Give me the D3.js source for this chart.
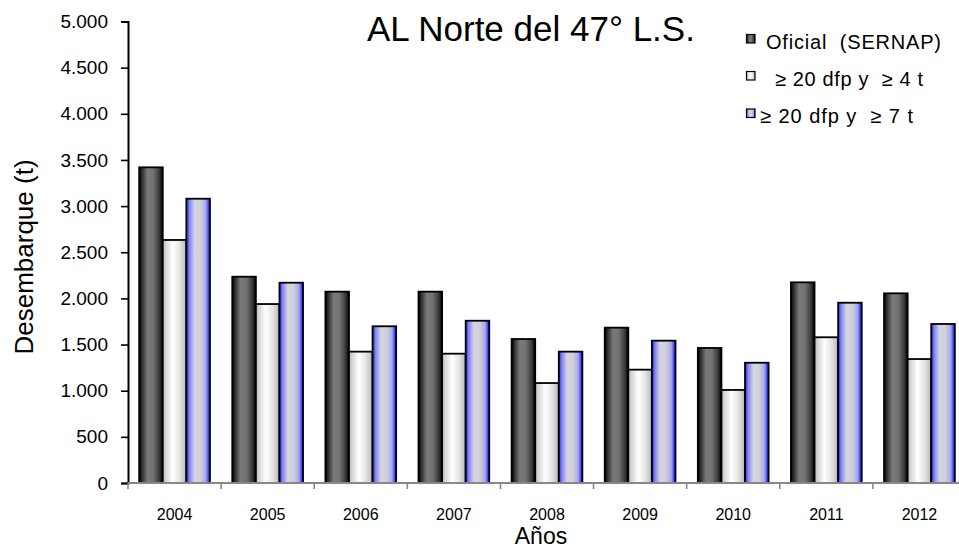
<!DOCTYPE html>
<html>
<head>
<meta charset="utf-8">
<script src="https://cdn.jsdelivr.net/npm/d3@7"></script>
<style>
  html, body { margin: 0; padding: 0; background: #fff; }
  svg { display: block; font-family: "Liberation Sans", Arial, sans-serif; }
  text { white-space: pre; }
</style>
</head>
<body>
<svg id="chart" width="959" height="550"></svg>
<script>
// ---- Data ----
const years = ["2004", "2005", "2006", "2007", "2008", "2009", "2010", "2011", "2012"];
const seriesNames = ["Oficial  (SERNAP)", "≥ 20 dfp y  ≥ 4 t", "≥ 20 dfp y  ≥ 7 t"];
const oficial = [3420, 2235, 2073, 2073, 1560, 1683, 1463, 2174, 2055];
const dfp4 = [2633, 1939, 1423, 1401, 1083, 1228, 1008, 1579, 1343];
const dfp7 = [3080, 2170, 1698, 1758, 1423, 1542, 1303, 1953, 1723];
const yTicks = [0, 500, 1000, 1500, 2000, 2500, 3000, 3500, 4000, 4500, 5000];
const titleText = "AL Norte del 47° L.S.";
const yTitle = "Desembarque (t)";
const xTitle = "Años";

const seriesValues = [oficial, dfp4, dfp7];

// ---- Layout ----
const svg = d3.select("#chart");
const pLeft = 128, pRight = 966, pTop = 21.5, pBottom = 483;

const x0 = d3.scaleBand().domain(years).range([pLeft, pRight]).paddingInner(0.24).paddingOuter(0.12);
const x1 = d3.scaleBand().domain(d3.range(seriesNames.length)).range([0, x0.bandwidth()]);
const y = d3.scaleLinear().domain([0, 5000]).range([pBottom, pTop]);

const loc = d3.formatLocale({ decimal: ",", thousands: ".", grouping: [3], currency: ["", ""] });
const fmt = loc.format(",");

// ---- Gradients ----
const defs = svg.append("defs");
const gradStops = [
  [[0, "#000000"], [0.12, "#2e2e2e"], [0.35, "#7a7a7a"], [0.6, "#727272"], [0.85, "#3a3a3a"], [1, "#000000"]],
  [[0, "#b8b8b8"], [0.15, "#d8d8d8"], [0.42, "#ffffff"], [0.7, "#e6e6e6"], [0.92, "#c4c4c4"], [1, "#9a9a9a"]],
  [[0, "#1a1aff"], [0.12, "#8080f0"], [0.35, "#d4d4e4"], [0.6, "#d0d0d8"], [0.82, "#a8a8ec"], [0.94, "#4040ff"], [1, "#0000ee"]]
];
gradStops.forEach((stops, i) => {
  const g = defs.append("linearGradient").attr("id", "g" + i)
    .attr("x1", "0%").attr("x2", "100%").attr("y1", "0%").attr("y2", "0%");
  stops.forEach(s => g.append("stop").attr("offset", s[0]).attr("stop-color", s[1]));
});

// ---- Bars ----
const groups = svg.append("g").selectAll("g").data(years).join("g")
  .attr("transform", d => `translate(${x0(d)},0)`);
groups.selectAll("rect")
  .data((d, i) => seriesValues.map((vals, s) => ({ s, v: vals[i] })))
  .join("rect")
  .attr("x", d => x1(d.s))
  .attr("y", d => y(d.v))
  .attr("width", x1.bandwidth())
  .attr("height", d => pBottom - y(d.v))
  .attr("fill", d => `url(#g${d.s})`)
  .attr("stroke", "#000")
  .attr("stroke-width", 1.8);

// ---- Y axis ----
const yAxis = svg.append("g").attr("transform", `translate(${pLeft},0)`)
  .call(d3.axisLeft(y).tickValues(yTicks).tickFormat(fmt).tickSize(7).tickPadding(13));
yAxis.select(".domain").attr("stroke", "#000").attr("stroke-width", 2);
yAxis.selectAll(".tick line").attr("stroke", "#000").attr("stroke-width", 1.6);
yAxis.selectAll(".tick text").attr("font-size", 19).attr("fill", "#000")
  .attr("font-family", "Liberation Sans, Arial, sans-serif");

// ---- X axis ----
const step = x0.step();
const boundaries = d3.range(years.length + 1).map(i => pLeft + i * step);
svg.append("line").attr("x1", pLeft).attr("x2", 959).attr("y1", pBottom).attr("y2", pBottom)
  .attr("stroke", "#888").attr("stroke-width", 2);
svg.append("g").selectAll("line").data(boundaries).join("line")
  .attr("x1", d => d).attr("x2", d => d).attr("y1", pBottom).attr("y2", pBottom + 6)
  .attr("stroke", "#888").attr("stroke-width", 1.6);
svg.append("g").selectAll("text").data(years).join("text")
  .attr("x", d => x0(d) + x0.bandwidth() / 2)
  .attr("y", 520)
  .attr("text-anchor", "middle")
  .attr("font-size", 16)
  .attr("fill", "#000")
  .text(d => d);

// ---- Titles ----
svg.append("text").attr("x", 367).attr("y", 41).attr("font-size", 35).attr("fill", "#000").text(titleText);
svg.append("text").attr("x", 541).attr("y", 544).attr("text-anchor", "middle")
  .attr("font-size", 23).attr("fill", "#000").text(xTitle);
svg.append("text").attr("transform", "translate(33,257) rotate(-90)").attr("text-anchor", "middle")
  .attr("font-size", 26).attr("fill", "#000").text(yTitle);

// ---- Legend ----
const legRowY = [39, 76, 113.5];
const legTextX = [766, 775, 760];
const legTextW = [175, 148, 153];
const leg = svg.append("g");
seriesNames.forEach((name, i) => {
  leg.append("rect").attr("x", 746.5).attr("y", legRowY[i] - 4.5).attr("width", 8.5).attr("height", 8.5)
    .attr("fill", `url(#g${i})`).attr("stroke", "#000").attr("stroke-width", 1.2);
  leg.append("text").attr("x", legTextX[i]).attr("y", legRowY[i] + 9.5)
    .attr("font-size", 20).attr("fill", "#000")
    .attr("textLength", legTextW[i]).attr("lengthAdjust", "spacing")
    .text(name);
});
</script>
</body>
</html>
